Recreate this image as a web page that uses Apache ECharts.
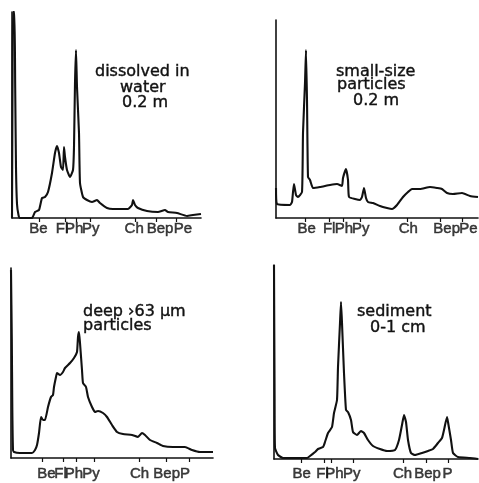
<!DOCTYPE html>
<html><head><meta charset="utf-8">
<script src="https://cdn.jsdelivr.net/npm/echarts@6/dist/echarts.min.js"></script>
<style>html,body{margin:0;padding:0;background:#fff}#c{width:479px;height:483px}</style>
</head><body><div id="c"></div>
<script>
// Compound labels under each chromatogram
const names1 = ['Be','Fl','Ph','Py','Ch','Bep','Pe'];
const names2 = ['Be','Fl','Ph','Py','Ch','Bep','Pe'];
const names3 = ['Be','Fl','Ph','Py','Ch','Bep','P'];
const names4 = ['Be','Fl','Ph','Py','Ch','Bep','P'];
// retention positions of the tick marks (arbitrary time units)
const ticks1 = [27,53,64.7,78.7,123.7,144.7,164.7];
const ticks2 = [29,53.3,67.3,84.7,131.3,164.7,186.7];
const ticks3 = [31,52,65,83,128,155,178];
const ticks4 = [27.7,50,57.7,79.3,129.3,152.7,174.3];
// where each label is centred
const labelAt1 = [26.3,50,62.2,78.8,122.2,148,170.8];
const labelAt2 = [30.7,53.2,67.8,84.8,132.3,170.7,192.3];
const labelAt3 = [35.3,49.5,62.8,80,128.5,155.7,174];
const labelAt4 = [27.7,48.5,60.5,77.7,128.5,153.5,173.5];
// panel titles
const title1 = ['dissolved in','water','0.2 m'];
const title2 = ['small-size','particles','0.2 m'];
const title3 = ['deep ›63 µm','particles'];
const title4 = ['sediment','0-1 cm'];
// signal traces [time, response]
const water = [[0,0],[0.6,150],[1,206],[2.5,206],[3.2,130],[4,50],[5,14],[6.5,3],[8,0],[20,0],[23,6],[27,8],[30,20],[33,21],[36,26],[40,45],[43,65],[45,72],[47,65],[49,51],[51,48],[52,71],[53,61],[55,48],[58,41],[61,48],[62,71],[63,135],[64,168],[65,131],[67,85],[68,35],[71,21],[75,18],[80,16],[85,18],[88,15],[95,10],[101,9],[116,9],[120,13],[121,18],[123,13],[126,10],[135,7],[146,6],[153,8],[156,6],[165,5],[175,2],[181,3],[189,4]];
const small = [[0,30],[1,14],[14,13],[16,16],[17,26],[18,34],[20,23],[22,21],[26,26],[27,85],[29,135],[30,168],[31,118],[32,41],[34,38],[37,30],[44,31],[54,33],[61,34],[66,32],[67,40],[70,49],[72,38],[73,21],[79,19],[84,18],[86,21],[88,30],[90,20],[92,16],[97,15],[104,12],[111,10],[116,9],[121,13],[127,21],[132,26],[136,29],[144,29],[154,31],[161,30],[166,29],[171,25],[177,24],[186,25],[194,22],[202,21]];
const deep = [[0,188],[0.8,120],[1.3,51],[2,8],[3,6],[9,5],[21,5],[24,8],[26,13],[28,25],[30,41],[32,38],[34,38],[37,51],[40,61],[42,63],[43,71],[45,81],[46,85],[49,83],[52,86],[54,90],[59,95],[63,100],[66,106],[67,121],[68,126],[69,115],[71,88],[72,75],[75,71],[77,61],[81,51],[84,46],[87,47],[92,45],[96,41],[101,33],[106,26],[112,24],[121,23],[127,21],[131,25],[134,23],[139,18],[146,15],[152,12],[162,11],[174,11],[181,8],[189,6],[196,6],[202,6]];
const sediment = [[0,194],[0.6,60],[1,11],[4,4],[9,1],[33,1],[36,3],[41,7],[44,10],[49,12],[51,17],[54,26],[58,32],[60,46],[63,59],[64,92],[66,136],[67,157],[68,136],[70,86],[72,49],[74,47],[77,39],[79,27],[83,24],[87,28],[90,26],[94,19],[99,13],[106,10],[113,8],[121,9],[125,19],[128,34],[130,44],[132,37],[134,19],[137,6],[141,4],[148,6],[154,8],[159,10],[164,16],[168,21],[170,29],[173,42],[174,37],[177,19],[179,6],[184,2],[196,1],[204,0]];

const INK = '#111111';
const panels = [
  {grid:{left:12, top:12, width:189, height:206}, xmax:189, ymax:206, ticks:ticks1, at:labelAt1, names:names1, data:water, gap:3},
  {grid:{left:276, top:20, width:202, height:198}, xmax:202, ymax:198, ticks:ticks2, at:labelAt2, names:names2, data:small, gap:3},
  {grid:{left:11, top:268, width:202, height:190}, xmax:202, ymax:190, ticks:ticks3, at:labelAt3, names:names3, data:deep, gap:8},
  {grid:{left:274, top:265, width:204, height:194}, xmax:204, ymax:194, ticks:ticks4, at:labelAt4, names:names4, data:sediment, gap:7.5}
];

function txt(lines, xs, ys) {
  return lines.map((t, i) => ({
    type: 'text', x: xs[i], y: ys[i], silent: true,
    style: {text: t, fill: INK, font: '16px "DejaVu Sans"', stroke: INK, lineWidth: 0.4,
      textAlign: 'left', textVerticalAlign: 'middle', align: 'left', verticalAlign: 'middle'}
  }));
}

const traceSeries = panels.map((p, i) => ({
  type: 'line', xAxisIndex: i, yAxisIndex: i, data: p.data, showSymbol: false, clip: false,
  lineStyle: {color: INK, width: 2.1}, smooth: 0.15, silent: true
}));
const labelSeries = panels.map((p, i) => ({
  type: 'scatter', xAxisIndex: i, yAxisIndex: i, clip: false, silent: true,
  symbol: 'circle', symbolSize: 0.01, itemStyle: {color: 'rgba(0,0,0,0)'},
  data: p.at.map((x, j) => ({name: p.names[j], value: [x, 0]})),
  label: {show: true, position: 'bottom', distance: p.gap, formatter: '{b}', color: INK, fontSize: 15,
    fontFamily: '"Liberation Sans", Arial, sans-serif', textBorderColor: INK, textBorderWidth: 0.5},
  labelLayout: {hideOverlap: false}
}));

const option = {
  backgroundColor: '#fff',
  animation: false,
  grid: panels.map(p => Object.assign({containLabel: false}, p.grid)),
  xAxis: panels.map((p, i) => ({
    gridIndex: i, type: 'value', min: 0, max: p.xmax,
    axisLine: {show: true, lineStyle: {color: INK, width: 1.6}},
    axisTick: {show: true, inside: false, length: 4, customValues: p.ticks, lineStyle: {color: INK, width: 1.2}},
    axisLabel: {show: false},
    splitLine: {show: false}
  })),
  yAxis: panels.map((p, i) => ({
    gridIndex: i, type: 'value', min: 0, max: p.ymax,
    axisLine: {show: true, onZero: false, lineStyle: {color: INK, width: 1.6}},
    axisTick: {show: false}, axisLabel: {show: false}, splitLine: {show: false}
  })),
  series: traceSeries.concat(labelSeries),
  graphic: [].concat(
    txt(title1, [95, 120, 122], [72, 88, 102.5]),
    txt(title2, [336, 337, 353], [71.5, 85, 101]),
    txt(title3, [83, 83], [311.5, 326]),
    txt(title4, [357, 370], [311.5, 327.5])
  )
};
echarts.init(document.getElementById('c'), null, {renderer: 'canvas'}).setOption(option);
</script>
</body></html>
